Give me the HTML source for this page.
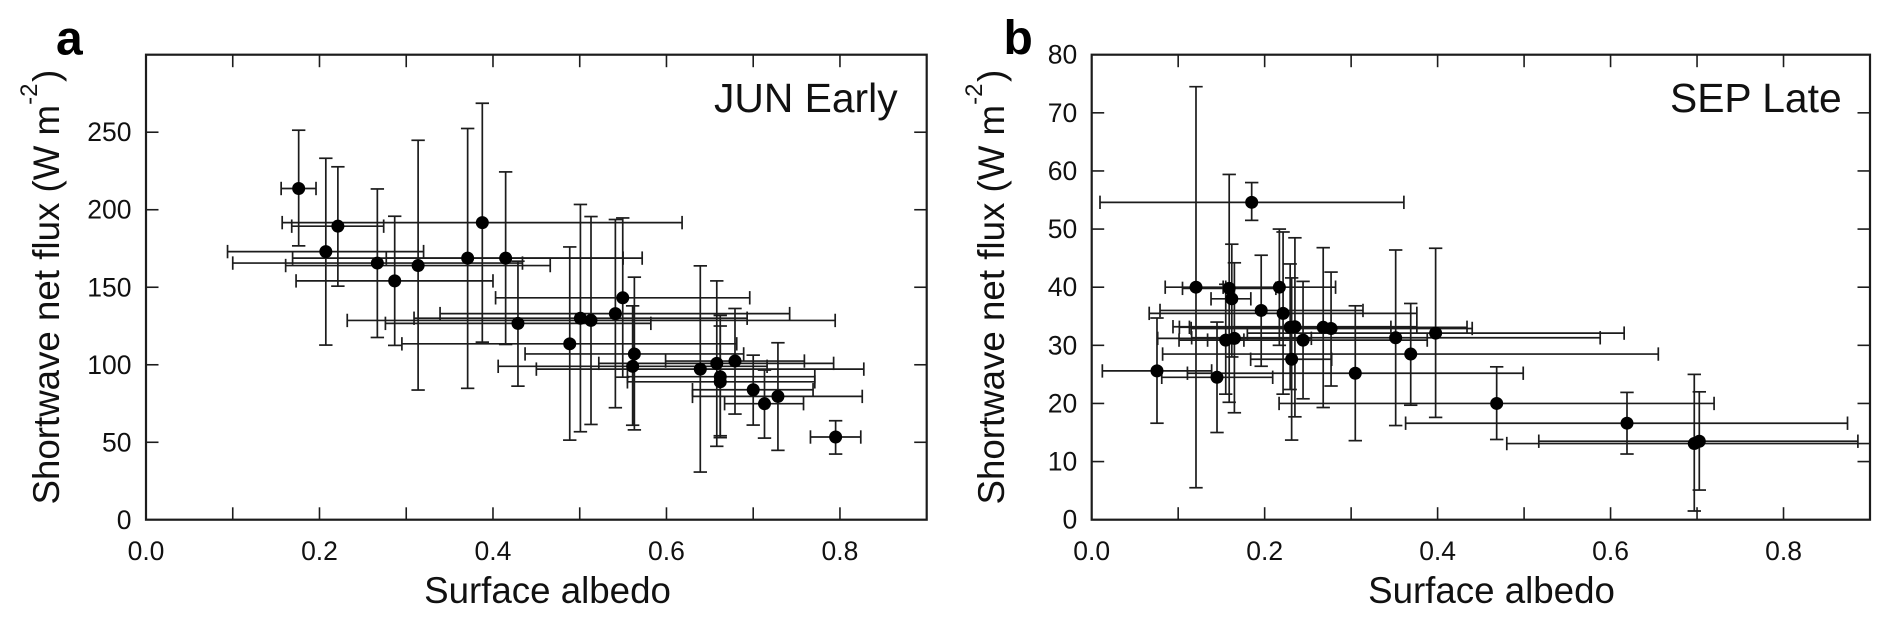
<!DOCTYPE html>
<html lang="en">
<head>
<meta charset="utf-8">
<title>Shortwave net flux vs surface albedo</title>
<style>
html,body{margin:0;padding:0;background:#fff;}
svg{display:block;}
text{font-family:"Liberation Sans",Arial,sans-serif;fill:#111;}
.tick-label{font-size:26.5px;}
.axis-title{font-size:36.7px;}
.panel-title{font-size:40.8px;}
.panel-letter{font-size:48px;font-weight:bold;fill:#000;}
.frame{fill:none;stroke:#1c1c1c;stroke-width:2.2;}
</style>
</head>
<body>
<svg id="chart" xmlns="http://www.w3.org/2000/svg" width="1892" height="623" viewBox="0 0 1892 623">
  <defs>
    <clipPath id="clip-a"><rect x="146" y="54.7" width="780.7" height="465"/></clipPath>
    <clipPath id="clip-b"><rect x="1091.7" y="54.7" width="778.3" height="465"/></clipPath>
  </defs>

  <g id="panel-a">
    <text class="panel-letter" x="56" y="54.5">a</text>
    <text class="axis-title" transform="translate(59,504.5) rotate(-90)">Shortwave net flux (W m<tspan font-size="24" dy="-22">-2</tspan><tspan dy="22" dx="1.5">)</tspan></text>
    <text class="axis-title" x="547.5" y="603" text-anchor="middle">Surface albedo</text>
    <text class="panel-title" x="714" y="112">JUN Early</text>
    <g id="ticks-a"></g>
    <g id="marks-a" clip-path="url(#clip-a)"></g>
    <rect class="frame" x="146" y="54.7" width="780.7" height="465"/>
  </g>

  <g id="panel-b">
    <text class="panel-letter" x="1003.5" y="54">b</text>
    <text class="axis-title" transform="translate(1004,504.5) rotate(-90)">Shortwave net flux (W m<tspan font-size="24" dy="-22">-2</tspan><tspan dy="22" dx="1.5">)</tspan></text>
    <text class="axis-title" x="1491.5" y="603" text-anchor="middle">Surface albedo</text>
    <text class="panel-title" x="1670" y="112">SEP Late</text>
    <g id="ticks-b"></g>
    <g id="marks-b" clip-path="url(#clip-b)"></g>
    <rect class="frame" x="1091.7" y="54.7" width="778.3" height="465"/>
  </g>
</svg>

<script>
// Shared x axis
const xTickValues = [0.1,0.2,0.3,0.4,0.5,0.6,0.7,0.8];
const xTickLabels = [0.0,0.2,0.4,0.6,0.8];

// Panel a: JUN Early
const yTicksA = [0,50,100,150,200,250];
const albedoA     = [0.176,0.2073,0.2212,0.2667,0.2867,0.3137,0.3708,0.3877,0.4146,0.4288,0.4885,0.5008,0.513,0.5411,0.5496,0.563,0.561,0.639,0.658,0.679,0.662,0.662,0.70,0.713,0.7285,0.795];
const fluxA       = [213.7,173,189.4,165.6,154.1,164,168.8,191.7,168.8,126.7,113.5,130,128.6,133,143.2,107,99,97.2,100.9,102.4,92.3,89,83.9,74.9,79.6,53.4];
const albedoLowA  = [0.1558,0.094,0.168,0.10,0.173,0.161,0.169,0.157,0.277,0.276,0.295,0.309,0.232,0.339,0.403,0.437,0.406,0.45,0.522,0.599,0.555,0.555,0.63,0.667,0.63,0.766];
const albedoHighA = [0.196,0.32,0.274,0.434,0.40,0.466,0.572,0.618,0.55,0.582,0.681,0.693,0.7945,0.742,0.696,0.689,0.716,0.8275,0.7927,0.759,0.771,0.771,0.769,0.758,0.8257,0.824];
const fluxLowA    = [176.7,112.7,150.7,117.6,112.5,83.7,84.8,114.6,113.1,86.2,51.4,56.8,61.5,72.3,92,58,61,30.8,47.4,68.2,53,54.2,61.1,52.7,44.8,42.4];
const fluxHighA   = [251.3,233.2,227.7,213.4,195.8,244.8,252.4,268.7,224.4,166.8,176,203.4,195.6,193.7,194.7,156.5,138,163.8,154.1,136.3,131.8,125,106.2,96.6,114.2,63.9];

// Panel b: SEP Late
const yTicksB = [0,10,20,30,40,50,60,70,80];
const albedoB     = [0.0755,0.1206,0.1449,0.155,0.159,0.162,0.165,0.185,0.196,0.217,0.2213,0.2295,0.2312,0.235,0.2444,0.2677,0.2768,0.3048,0.3515,0.3689,0.3977,0.4683,0.619,0.6968,0.7026];
const fluxB       = [25.6,40,24.5,30.9,39.8,38,31.2,54.6,36,40,35.5,33.1,27.6,33.2,30.9,33.1,32.9,25.2,31.3,28.5,32.1,20,16.6,13.1,13.5];
const albedoLowB  = [0.0123,0.085,0.081,0.134,0.105,0.138,0.0763,0.0096,0.079,0.152,0.0665,0.113,0.1838,0.094,0.101,0.1014,0.115,0.1107,0.1156,0.082,0.18,0.2167,0.363,0.48,0.517];
const albedoHighB = [0.1387,0.155,0.2093,0.176,0.213,0.184,0.254,0.361,0.3137,0.282,0.376,0.346,0.2775,0.376,0.388,0.434,0.44,0.499,0.588,0.6552,0.6157,0.7197,0.874,0.9136,0.886];
const fluxLowB    = [16.6,5.5,15,21.6,20.2,28,18.4,51.5,26.4,30,21.6,22.4,13.7,17.7,20.8,19.3,23,13.6,16.2,19.7,17.6,13.8,11.3,1.5,5.1];
const fluxHighB   = [34.7,74.5,34,40.5,59.4,47.4,44.2,58,45.5,50,49.5,44,41.6,48.5,41,46.8,42.6,36.8,46.4,37.2,46.7,26.3,21.9,25,22];

const SVG_NS = 'http://www.w3.org/2000/svg';

function axisX(left, right) {
  return function (v) { return left + (v / 0.9) * (right - left); };
}
function axisY(top, bottom, maxValue) {
  return function (v) { return bottom - (v / maxValue) * (bottom - top); };
}
function segment(x1, y1, x2, y2, width) {
  const el = document.createElementNS(SVG_NS, 'line');
  el.setAttribute('x1', x1);
  el.setAttribute('y1', y1);
  el.setAttribute('x2', x2);
  el.setAttribute('y2', y2);
  el.setAttribute('stroke', '#1c1c1c');
  el.setAttribute('stroke-width', width);
  return el;
}
function label(x, y, anchor, content) {
  const el = document.createElementNS(SVG_NS, 'text');
  el.setAttribute('class', 'tick-label');
  el.setAttribute('x', x);
  el.setAttribute('y', y);
  el.setAttribute('text-anchor', anchor);
  el.textContent = content;
  return el;
}

function drawAxes(group, sx, sy, left, right, top, bottom, yTicks) {
  const tickLength = 12.5;
  xTickValues.forEach(function (v) {
    const low = segment(sx(v), bottom, sx(v), bottom - tickLength, 1.6);
    
    
    group.appendChild(low);
    const high = segment(sx(v), top, sx(v), top + tickLength, 1.6);
    
    
    group.appendChild(high);
  });
  xTickLabels.forEach(function (v) {
    const text = label(sx(v), 560, 'middle', v.toFixed(1));
    
    
    group.appendChild(text);
  });
  yTicks.forEach(function (v) {
    const y = sy(v);
    const text = label(left - 14.5, y + 9, 'end', String(v));
    
    
    group.appendChild(text);
    if (v === 0) { return; }
    if (y - top > 1) {
      const leftTick = segment(left, y, left + tickLength, y, 1.6);
      
      
      group.appendChild(leftTick);
      const rightTick = segment(right, y, right - tickLength, y, 1.6);
      
      
      group.appendChild(rightTick);
    }
  });
}

function drawSeries(group, sx, sy, xs, ys, xLow, xHigh, yLow, yHigh) {
  const cap = 6.7;
  const barWidth = 1.7;
  xs.forEach(function (_, i) {
    const px = sx(xs[i]);
    const py = sy(ys[i]);
    const hBar = segment(sx(xLow[i]), py, sx(xHigh[i]), py, barWidth);
    
    
    group.appendChild(hBar);
    const hCapLow = segment(sx(xLow[i]), py - cap, sx(xLow[i]), py + cap, barWidth);
    
    
    group.appendChild(hCapLow);
    const hCapHigh = segment(sx(xHigh[i]), py - cap, sx(xHigh[i]), py + cap, barWidth);
    
    
    group.appendChild(hCapHigh);
    const vBar = segment(px, sy(yLow[i]), px, sy(yHigh[i]), barWidth);
    
    
    group.appendChild(vBar);
    const vCapLow = segment(px - cap, sy(yLow[i]), px + cap, sy(yLow[i]), barWidth);
    
    
    group.appendChild(vCapLow);
    const vCapHigh = segment(px - cap, sy(yHigh[i]), px + cap, sy(yHigh[i]), barWidth);
    
    
    group.appendChild(vCapHigh);
  });
  xs.forEach(function (_, i) {
    const dot = document.createElementNS(SVG_NS, 'circle');
    dot.setAttribute('cx', sx(xs[i]));
    dot.setAttribute('cy', sy(ys[i]));
    dot.setAttribute('r', 6.5);
    dot.setAttribute('fill', '#000');
    
    
    group.appendChild(dot);
  });
}

const sxA = axisX(146, 926.7);
const syA = axisY(54.7, 519.8, 300);
drawAxes(document.getElementById('ticks-a'), sxA, syA, 146, 926.7, 54.7, 519.8, yTicksA);
drawSeries(document.getElementById('marks-a'), sxA, syA, albedoA, fluxA, albedoLowA, albedoHighA, fluxLowA, fluxHighA);

const sxB = axisX(1091.7, 1870);
const syB = axisY(54.7, 519.7, 80);
drawAxes(document.getElementById('ticks-b'), sxB, syB, 1091.7, 1870, 54.7, 519.7, yTicksB);
drawSeries(document.getElementById('marks-b'), sxB, syB, albedoB, fluxB, albedoLowB, albedoHighB, fluxLowB, fluxHighB);
</script>
</body>
</html>
